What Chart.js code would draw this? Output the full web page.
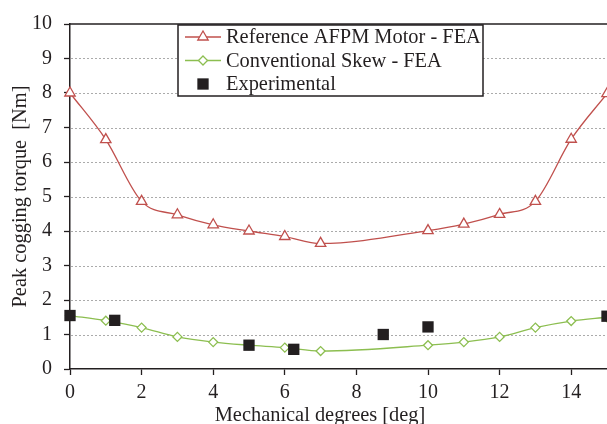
<!DOCTYPE html>
<html>
<head>
<meta charset="utf-8">
<script src="https://cdn.jsdelivr.net/npm/chart.js@4.4.1/dist/chart.umd.min.js"></script>
<style>
  html, body { margin: 0; padding: 0; background: #fff; }
  #wrap { width: 607px; height: 424px; }
</style>
</head>
<body>
<div id="wrap"><canvas id="myChart" width="607" height="424"></canvas></div>
<script>
// data
const degrees = [0, 1, 2, 3, 4, 5, 6, 7, 10, 11, 12, 13, 14, 15];
const refTorque = [8.0, 6.65, 4.86, 4.47, 4.18, 4.0, 3.84, 3.64, 4.01, 4.2, 4.48, 4.86, 6.66, 7.98];
const skewTorque = [1.55, 1.4, 1.2, 0.93, 0.78, 0.69, 0.62, 0.52, 0.69, 0.78, 0.93, 1.2, 1.39, 1.5];
const expDegrees = [0, 1.25, 5, 6.25, 8.75, 10, 15];
const expTorque = [1.55, 1.41, 0.69, 0.57, 1.0, 1.22, 1.53];
const xTicks = [0, 2, 4, 6, 8, 10, 12, 14];
const yTicks = [0, 1, 2, 3, 4, 5, 6, 7, 8, 9, 10];
const labels = ["Reference AFPM Motor - FEA", "Conventional Skew - FEA", "Experimental"];

const RED = "rgb(192,80,77)";
const GREEN = "rgb(140,190,80)";
const INK = "#231f20";
const FONT = "'Liberation Serif', 'Times New Roman', serif";

function pts(xs, ys) {
  return xs.map((x, i) => ({ x: x, y: ys[i] }));
}

function marker(ctx, style, x, y, r) {
  ctx.beginPath();
  if (style === "triangle") {
    let a = 0;
    ctx.moveTo(x + Math.sin(a) * r, y - Math.cos(a) * r);
    a += 2 * Math.PI / 3;
    ctx.lineTo(x + Math.sin(a) * r, y - Math.cos(a) * r);
    a += 2 * Math.PI / 3;
    ctx.lineTo(x + Math.sin(a) * r, y - Math.cos(a) * r);
    ctx.closePath();
  } else if (style === "rectRot") {
    ctx.moveTo(x, y - r);
    ctx.lineTo(x + r, y);
    ctx.lineTo(x, y + r);
    ctx.lineTo(x - r, y);
    ctx.closePath();
  } else {
    const s = r / Math.SQRT2;
    ctx.rect(x - s, y - s, 2 * s, 2 * s);
  }
}

const boxPlugin = {
  id: "boxPlugin",
  beforeDatasetsDraw(chart) {
    const { ctx, chartArea } = chart;
    const yScale = chart.scales.y;
    ctx.save();
    // dotted horizontal grid
    ctx.strokeStyle = "#ababab";
    ctx.lineWidth = 1;
    ctx.setLineDash([2, 2]);
    yTicks.forEach(v => {
      if (v === 0 || v === 10) return;
      const y = Math.round(yScale.getPixelForValue(v)) + 0.5;
      ctx.beginPath();
      ctx.moveTo(chartArea.left + 1, y);
      ctx.lineTo(chartArea.right, y);
      ctx.stroke();
    });
    ctx.setLineDash([]);
    // top frame line
    ctx.strokeStyle = INK;
    ctx.lineWidth = 1.5;
    ctx.beginPath();
    ctx.moveTo(chartArea.left, chartArea.top);
    ctx.lineTo(chartArea.right, chartArea.top);
    ctx.stroke();
    ctx.restore();
  },
  afterDraw(chart) {
    const { ctx } = chart;
    ctx.save();
    // legend box
    const bx = 178, by = 25, bw = 305, bh = 71;
    ctx.fillStyle = "#fff";
    ctx.fillRect(bx, by, bw, bh);
    ctx.strokeStyle = INK;
    ctx.lineWidth = 1.5;
    ctx.strokeRect(bx, by, bw, bh);
    const rows = [
      { color: RED, style: "triangle", r: 6, line: true },
      { color: GREEN, style: "rectRot", r: 4.5, line: true },
      { color: INK, style: "rect", r: 8, line: false }
    ];
    ctx.font = "20.4px " + FONT;
    ctx.textBaseline = "middle";
    rows.forEach((row, i) => {
      const cy = 37 + i * 23.5;
      if (row.line) {
        ctx.strokeStyle = row.color;
        ctx.lineWidth = 1.3;
        ctx.beginPath();
        ctx.moveTo(185, cy);
        ctx.lineTo(221, cy);
        ctx.stroke();
        marker(ctx, row.style, 203, cy, row.r);
        ctx.fillStyle = "#fff";
        ctx.fill();
        ctx.stroke();
      } else {
        marker(ctx, row.style, 203, cy, row.r);
        ctx.fillStyle = INK;
        ctx.fill();
      }
      ctx.fillStyle = INK;
      ctx.fillText(labels[i], 226, cy + 1);
    });
    // x axis title
    ctx.textAlign = "center";
    ctx.fillText("Mechanical degrees [deg]", 320, 416);
    ctx.restore();
  }
};

new Chart(document.getElementById("myChart"), {
  type: "line",
  data: {
    datasets: [
      {
        label: labels[0],
        data: pts(degrees, refTorque),
        order: 1,
        borderColor: RED,
        borderWidth: 1.3,
        pointStyle: "triangle",
        pointRadius: 6,
        pointBorderWidth: 1.3,
        pointBorderColor: RED,
        pointBackgroundColor: "#fff",
        cubicInterpolationMode: "monotone",
        clip: false
      },
      {
        label: labels[1],
        data: pts(degrees, skewTorque),
        order: 2,
        borderColor: GREEN,
        borderWidth: 1.3,
        pointStyle: "rectRot",
        pointRadius: 4.5,
        pointBorderWidth: 1.3,
        pointBorderColor: GREEN,
        pointBackgroundColor: "#fff",
        cubicInterpolationMode: "monotone",
        clip: false
      },
      {
        label: labels[2],
        data: pts(expDegrees, expTorque),
        order: 0,
        showLine: false,
        pointStyle: "rect",
        pointRadius: 8,
        pointBorderWidth: 0,
        pointBackgroundColor: INK,
        pointBorderColor: INK,
        clip: false
      }
    ]
  },
  options: {
    responsive: false,
    animation: false,
    layout: { autoPadding: false, padding: { top: 21, right: 0, left: 0, bottom: 0 } },
    plugins: { legend: { display: false }, tooltip: { enabled: false } },
    scales: {
      x: {
        type: "linear",
        min: 0,
        max: 15,
        afterBuildTicks: (scale) => { scale.ticks = xTicks.map(v => ({ value: v })); },
        afterFit: (scale) => { scale.height = 55; },
        ticks: { color: INK, font: { family: FONT, size: 20 }, padding: 6, maxRotation: 0 },
        grid: { drawOnChartArea: false, tickLength: 6, tickColor: INK, tickWidth: 1.3 },
        border: { color: INK, width: 1.5 }
      },
      y: {
        min: 0,
        max: 10,
        afterBuildTicks: (scale) => { scale.ticks = yTicks.map(v => ({ value: v })); },
        afterFit: (scale) => { scale.width = 70; },
        ticks: { color: INK, font: { family: FONT, size: 20 }, padding: 12 },
        grid: { drawOnChartArea: false, tickLength: 6, tickColor: INK, tickWidth: 1.3 },
        border: { color: INK, width: 1.5 },
        title: {
          display: true,
          text: "Peak cogging torque  [Nm]",
          color: INK,
          font: { family: FONT, size: 20.4 },
          padding: { top: 8, bottom: 0 }
        }
      }
    }
  },
  plugins: [boxPlugin]
});
</script>
</body>
</html>
